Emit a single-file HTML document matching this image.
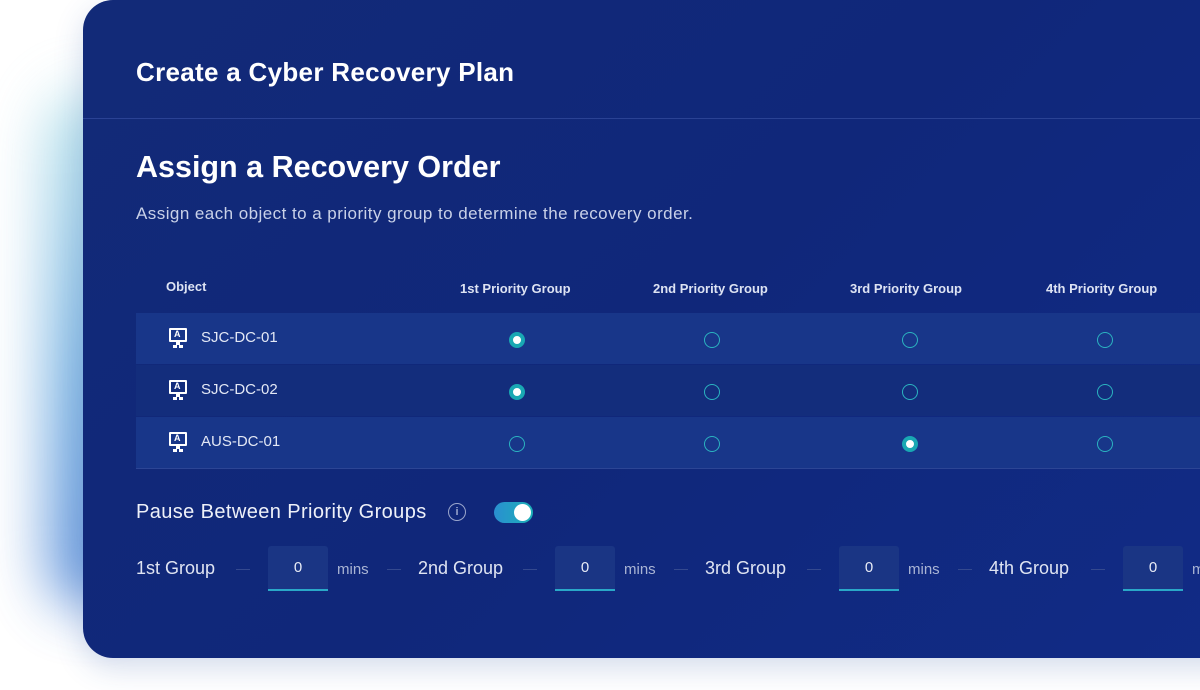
<!DOCTYPE html>
<html><head><style>
body{margin:0;width:1200px;height:690px;background:#fff;overflow:hidden;position:relative;font-family:"Liberation Sans","DejaVu Sans",sans-serif;}
.glow{position:absolute;left:45px;top:90px;width:90px;height:520px;border-radius:45px;background:linear-gradient(180deg,#a6dde6,#4b98d8 55%,#2f6fd0);filter:blur(28px);opacity:.7}
.card{position:absolute;left:83px;top:0;width:1160px;height:658px;border-radius:30px 0 0 30px;background:linear-gradient(135deg,#122a78,#10277a 50%,#112b86);box-shadow:0 10px 30px rgba(40,80,160,.2);color:#fff;overflow:hidden}
.t{position:absolute;white-space:nowrap}
.row{position:absolute;left:53px;width:1120px;height:51px}
.r{position:absolute;border:1.5px solid #2bb3c0;border-radius:50%;box-sizing:border-box;width:16px;height:16px}
.r.on{background:#fff;border:4px solid #19a8b3}
.inp{position:absolute;top:546px;width:60px;height:43px;background:#1a3584;border-bottom:2px solid #2aa8c8;border-radius:3px 3px 0 0;text-align:center;line-height:43px;font-size:15px;color:#e8ecf6}
.g{position:absolute;top:558px;font-size:18px;color:#dfe4f2}
.m{position:absolute;top:561px;font-size:15px;color:#a9b4d4}
.d{position:absolute;top:569px;width:14px;height:1px;background:#34498f}
.mon{position:absolute;left:33px;top:15px;width:18px;height:14px;border:2px solid #fff;box-sizing:border-box;border-radius:1px}
.mon:after{content:"";position:absolute;left:5px;top:12px;width:4px;height:3px;background:#fff;box-shadow:-3px 3px 0 0 #fff,3px 3px 0 0 #fff}
.mon span{position:absolute;left:3px;top:-1px;font-size:9px;font-weight:bold}
</style></head><body>
<div class="glow"></div>
<div class="card">
<div class="t" style="left:53px;top:57px;font-size:26px;font-weight:bold;letter-spacing:0.3px">Create a Cyber Recovery Plan</div>
<div style="position:absolute;left:0;top:118px;width:100%;height:1px;background:#2a4294"></div>
<div class="t" style="left:53px;top:150px;font-size:30.5px;font-weight:bold">Assign a Recovery Order</div>
<div class="t" style="left:53px;top:204px;font-size:17px;letter-spacing:0.45px;color:#c9d1e8">Assign each object to a priority group to determine the recovery order.</div>
<div class="t" style="left:83px;top:279px;font-size:13px;font-weight:bold;color:#dde3f3">Object</div>
<div class="t" style="left:377px;top:281px;font-size:13px;font-weight:bold;color:#dde3f3">1st Priority Group</div>
<div class="t" style="left:570px;top:281px;font-size:13px;font-weight:bold;color:#dde3f3">2nd Priority Group</div>
<div class="t" style="left:767px;top:281px;font-size:13px;font-weight:bold;color:#dde3f3">3rd Priority Group</div>
<div class="t" style="left:963px;top:281px;font-size:13px;font-weight:bold;color:#dde3f3">4th Priority Group</div>

<div class="row" style="top:313px;background:#183689"><div class="mon"><span>A</span></div><div class="t" style="left:65px;top:16px;font-size:15px;color:#e3e8f5">SJC-DC-01</div>
<div class="r on" style="left:373px;top:19px"></div><div class="r" style="left:568px;top:19px"></div><div class="r" style="left:766px;top:19px"></div><div class="r" style="left:961px;top:19px"></div></div>
<div class="row" style="top:365px;background:#132d7c"><div class="mon"><span>A</span></div><div class="t" style="left:65px;top:16px;font-size:15px;color:#e3e8f5">SJC-DC-02</div>
<div class="r on" style="left:373px;top:19px"></div><div class="r" style="left:568px;top:19px"></div><div class="r" style="left:766px;top:19px"></div><div class="r" style="left:961px;top:19px"></div></div>
<div class="row" style="top:417px;background:#183689;border-bottom:1px solid #2c4595"><div class="mon"><span>A</span></div><div class="t" style="left:65px;top:16px;font-size:15px;color:#e3e8f5">AUS-DC-01</div>
<div class="r" style="left:373px;top:19px"></div><div class="r" style="left:568px;top:19px"></div><div class="r on" style="left:766px;top:19px"></div><div class="r" style="left:961px;top:19px"></div></div>

<div class="t" style="left:53px;top:501px;font-size:20px;letter-spacing:0.4px;color:#eef1f9">Pause Between Priority Groups</div>
<div style="position:absolute;left:365px;top:503px;width:16px;height:16px;border:1.5px solid #9aa6cc;border-radius:50%;color:#9aa6cc;font-size:11px;text-align:center;line-height:16px;font-weight:bold">i</div>
<div style="position:absolute;left:411px;top:502px;width:39px;height:21px;border-radius:11px;background:linear-gradient(90deg,#2a8fd0,#1cb0b8)"><div style="position:absolute;right:2px;top:2px;width:17px;height:17px;border-radius:50%;background:#fff"></div></div>

<div class="g" style="left:53px">1st Group</div><div class="d" style="left:153px"></div>
<div class="inp" style="left:185px">0</div><div class="m" style="left:254px">mins</div><div class="d" style="left:304px"></div>
<div class="g" style="left:335px">2nd Group</div><div class="d" style="left:440px"></div>
<div class="inp" style="left:472px">0</div><div class="m" style="left:541px">mins</div><div class="d" style="left:591px"></div>
<div class="g" style="left:622px">3rd Group</div><div class="d" style="left:724px"></div>
<div class="inp" style="left:756px">0</div><div class="m" style="left:825px">mins</div><div class="d" style="left:875px"></div>
<div class="g" style="left:906px">4th Group</div><div class="d" style="left:1008px"></div>
<div class="inp" style="left:1040px">0</div><div class="m" style="left:1109px">mins</div>
</div>
</body></html>
